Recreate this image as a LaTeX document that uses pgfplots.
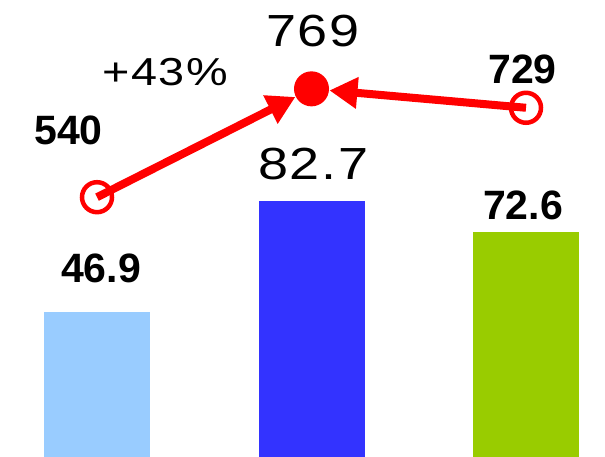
\documentclass[border=0pt]{standalone}
\usepackage{pgfplots}
\pgfplotsset{compat=1.18}
\usetikzlibrary{arrows.meta}
\usepackage{fontspec}
\setmainfont{Liberation Sans}
\newfontfamily\widefont[FakeStretch=1.2,LetterSpace=4]{Liberation Sans}
\definecolor{barA}{HTML}{99CCFF}
\definecolor{barB}{HTML}{3333FF}
\definecolor{barC}{HTML}{99CC00}
\tikzset{
  boldlab/.style={font=\fontsize{41}{41}\selectfont\bfseries,inner sep=0pt,anchor=center},
  thinlab/.style={font=\widefont\fontsize{45}{45}\selectfont,inner sep=0pt,anchor=center},
}
\pgfplotsset{
  base/.style={width=605pt,height=457pt,scale only axis,hide axis,clip=false,
    xmin=-0.4522,xmax=2.3683},
}
\begin{document}
\begin{tikzpicture}
% bars
\begin{axis}[base,ymin=0,ymax=147.75]
\path (rel axis cs:0,0) rectangle (rel axis cs:1,1);
\addplot[ybar,bar width=106pt,fill=barA,draw=none] coordinates {(0,46.9)};
\addplot[ybar,bar width=106pt,fill=barB,draw=none] coordinates {(1,82.7)};
\addplot[ybar,bar width=106pt,fill=barC,draw=none] coordinates {(2,72.6)};
\node[boldlab] at (axis cs:0.019,61.1) {46.9};
\node[thinlab] at (axis cs:1.009,94.7) {82.7};
\node[boldlab] at (axis cs:1.986,81.5) {72.6};
\node[boldlab] at (axis cs:-0.133,105.6) {540};
\node[boldlab] at (axis cs:1.984,125.3) {729};
\node[thinlab] at (axis cs:1.007,137.6) {769};
\node[thinlab,font=\widefont\fontsize{39}{39}\selectfont] at (axis cs:0.317,124.5) {+43\%};
\end{axis}
% line
\begin{axis}[base,ymin=-9.1,ymax=956.8]
\addplot[red,line width=8pt,-{Triangle[length=28pt,width=30pt]},shorten >=18pt]
  coordinates {(0,540) (1,769)};
\addplot[red,line width=8pt,-{Triangle[length=28pt,width=30pt]},shorten >=18pt]
  coordinates {(2,729) (1,769)};
\addplot[only marks,mark=o,mark size=15pt,mark options={draw=red,fill=white,line width=4.5pt}]
  coordinates {(0,540) (2,729)};
\addplot[only marks,mark=*,mark size=16.5pt,mark options={draw=red,fill=red,line width=2pt}]
  coordinates {(1,769)};
\end{axis}
\end{tikzpicture}
\end{document}
